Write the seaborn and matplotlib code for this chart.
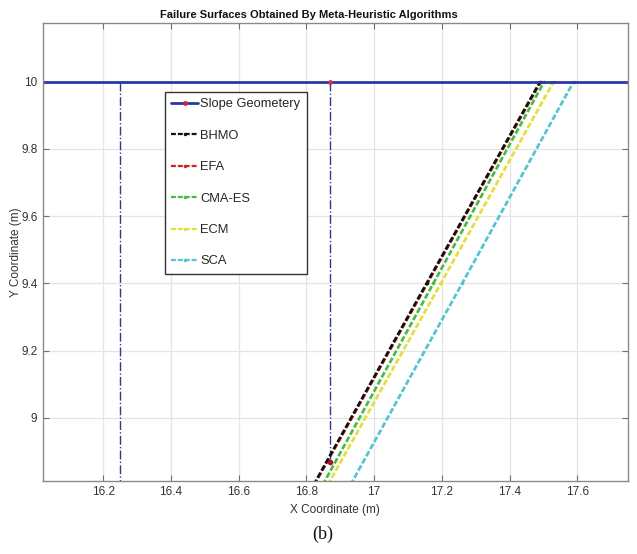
import matplotlib
matplotlib.use("Agg")
import matplotlib.pyplot as plt
import seaborn as sns
import numpy as np

# ---------------- data ----------------
y_fail = [8.80, 9.40, 10.00]
bhmo_x = [16.821, 17.155, 17.490]
efa_x = [16.823, 17.157, 17.492]
cmaes_x = [16.848, 17.175, 17.502]
ecm_x = [16.863, 17.197, 17.530]
sca_x = [16.930, 17.260, 17.589]

slope_x = [15.90, 16.87, 17.90]
slope_y = [10.0, 10.0, 10.0]

left_bound_x = [16.25, 16.25]
left_bound_y = [10.0, 8.70]
right_bound_x = [16.87, 16.87]
right_bound_y = [10.0, 8.869]

x_ticks = [16.2, 16.4, 16.6, 16.8, 17.0, 17.2, 17.4, 17.6]
x_ticklabels = ["16.2", "16.4", "16.6", "16.8", "17", "17.2", "17.4", "17.6"]
y_ticks = [9.0, 9.2, 9.4, 9.6, 9.8, 10.0]
y_ticklabels = ["9", "9.2", "9.4", "9.6", "9.8", "10"]

labels = ["Slope Geometery", "BHMO", "EFA", "CMA-ES", "ECM", "SCA"]

# ---------------- style ----------------
sns.set_style("whitegrid")
plt.rcParams["font.family"] = ["Liberation Sans", "DejaVu Sans"]

fig = plt.figure(figsize=(6.37, 5.54), dpi=100)
ax = fig.add_axes([0.0675, 0.1323, 0.918, 0.8257])

blue = "#2a37a8"
dash = (0, (2.2, 0.9))

# boundary dash-dot lines
sns.lineplot(x=left_bound_x, y=left_bound_y, ax=ax, color=blue, lw=1.0,
             linestyle="-.", sort=False, estimator=None)
sns.lineplot(x=right_bound_x, y=right_bound_y, ax=ax, color=blue, lw=1.0,
             linestyle="-.", sort=False, estimator=None)
ax.plot([right_bound_x[1]], [right_bound_y[1]], "o", color="#b01030", ms=3)

series = [
    (sca_x, "#4cc6d6", "SCA"),
    (ecm_x, "#e6df2e", "ECM"),
    (cmaes_x, "#3fbf3f", "CMA-ES"),
    (efa_x, "#d42020", "EFA"),
    (bhmo_x, "#111111", "BHMO"),
]
handles = {}
for xs, col, lab in series:
    sns.lineplot(x=xs, y=y_fail, ax=ax, color=col, lw=1.9, linestyle=dash,
                 marker=".", markersize=5, markeredgewidth=0, sort=False,
                 estimator=None)
    handles[lab] = plt.Line2D([], [], color=col, lw=1.6, linestyle=dash,
                              marker=".", markersize=5, markeredgewidth=0)

sns.lineplot(x=slope_x, y=slope_y, ax=ax, color=blue, lw=2.0, sort=False,
             estimator=None)
ax.plot([slope_x[1]], [slope_y[1]], ".", color="#d03050", ms=5)
handles["Slope Geometery"] = plt.Line2D([], [], color=blue, lw=2.0,
                                        marker=".", markersize=5,
                                        markerfacecolor="#e02040",
                                        markeredgecolor="#e02040")

ax.set_xlim(16.022, 17.749)
ax.set_ylim(8.8125, 10.174)
ax.set_xticks(x_ticks)
ax.set_xticklabels(x_ticklabels)
ax.set_yticks(y_ticks)
ax.set_yticklabels(y_ticklabels)

ax.grid(True, color="#e4e4e4", lw=0.9)
for s in ax.spines.values():
    s.set_color("#8a8a8a")
    s.set_linewidth(1.0)
    s.set_visible(True)
ax.tick_params(direction="in", length=4, width=0.8, color="#707070",
               labelsize=8.5, labelcolor="#333333", top=True, right=True,
               bottom=True, left=True, pad=4)

ax.set_xlabel("X Coordinate (m)", fontsize=8.5, color="#333333")
ax.xaxis.set_label_coords(0.5, -0.05)
ax.set_ylabel("Y Coordinate (m)", fontsize=8.5, color="#333333")
ax.yaxis.set_label_coords(-0.036, 0.5)

fig.text(0.485, 0.973, "Failure Surfaces Obtained By Meta-Heuristic Algorithms",
         ha="center", va="center", fontsize=8, fontweight="bold", color="#111111")

leg = ax.legend([handles[l] for l in labels], labels, loc="upper left",
                bbox_to_anchor=(0.208, 0.85), fontsize=9.3, frameon=True,
                fancybox=False, edgecolor="#333333", framealpha=1,
                labelspacing=1.5, handlelength=2.1, handletextpad=0.15,
                borderpad=0.5, borderaxespad=0)
leg.get_frame().set_linewidth(1.0)

fig.text(0.506, 0.02, "(b)", ha="center", va="bottom", fontsize=13,
         family=["Liberation Serif", "DejaVu Serif"], color="#111111")

fig.savefig("out.png", dpi=100)
